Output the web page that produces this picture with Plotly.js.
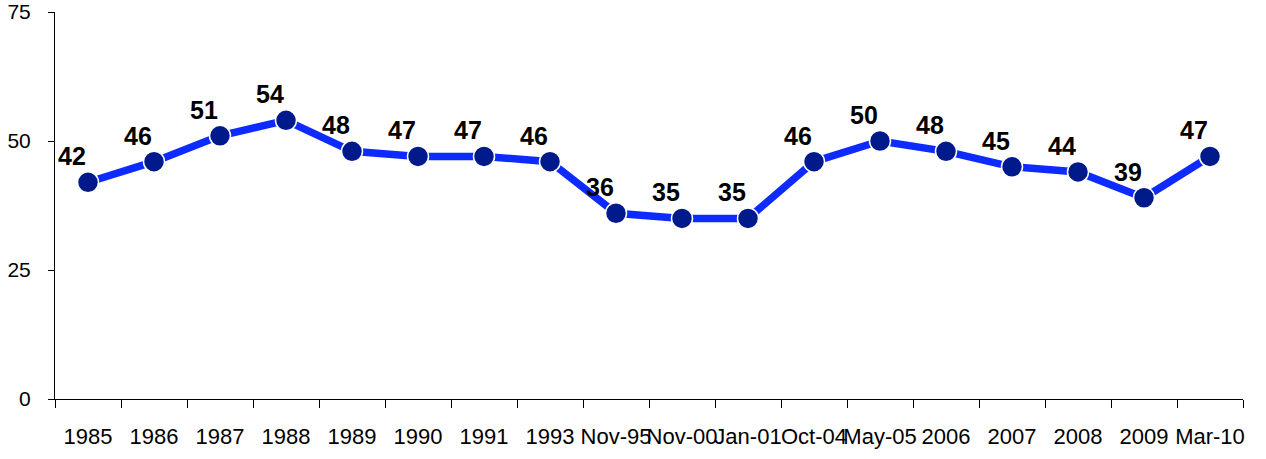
<!DOCTYPE html>
<html><head><meta charset="utf-8">
<script src="https://cdn.plot.ly/plotly-3.0.1.min.js"></script>
<style>body{margin:0;background:#fff}#chart{width:1266px;height:459px}</style>
</head><body><div id="chart"></div>
<script>
const categories = ["1985","1986","1987","1988","1989","1990","1991","1993","Nov-95","Nov-00","Jan-01","Oct-04","May-05","2006","2007","2008","2009","Mar-10"];
const values = [42,46,51,54,48,47,47,46,36,35,35,46,50,48,45,44,39,47];
const yTicks = [0,25,50,75];

const trace = {
  x: categories, y: values, type: 'scatter', mode: 'lines+markers',
  line: {color: '#0d2bff', width: 7.5},
  marker: {color: '#001a8c', size: 21, line: {color: '#ffffff', width: 1.5}},
  hoverinfo: 'none', cliponaxis: false
};
const annotations = categories.map((c, i) => ({
  x: i, y: values[i], text: String(values[i]), showarrow: false,
  xanchor: 'center', yanchor: 'middle', xshift: -16, yshift: 26,
  font: {family: 'Liberation Sans, Arial, sans-serif', size: 25, color: '#000', weight: 'bold'}
}));
const layout = {
  width: 1266, height: 459,
  margin: {l: 55, r: 23, t: 12, b: 60},
  paper_bgcolor: '#fff', plot_bgcolor: '#fff',
  showlegend: false,
  font: {family: 'Liberation Sans, Arial, sans-serif', size: 20, color: '#000'},
  xaxis: {type: 'category', tickson: 'boundaries', ticks: 'outside', ticklen: 8, tickcolor: '#000', tickwidth: 1,
    showline: true, linecolor: '#000', linewidth: 1, showgrid: false, zeroline: false,
    ticklabelstandoff: 18, tickfont: {size: 22}, range: [-0.5, 17.5], tickangle: 0},
  yaxis: {range: [0, 75], tickvals: yTicks, ticks: 'outside', ticklen: 6, tickcolor: '#000',
    showline: true, linecolor: '#000', linewidth: 1, showgrid: false, zeroline: false,
    tickfont: {size: 21}, ticklabelstandoff: 13},
  annotations: annotations
};
Plotly.newPlot('chart', [trace], layout, {staticPlot: true, displayModeBar: false});
</script></body></html>
